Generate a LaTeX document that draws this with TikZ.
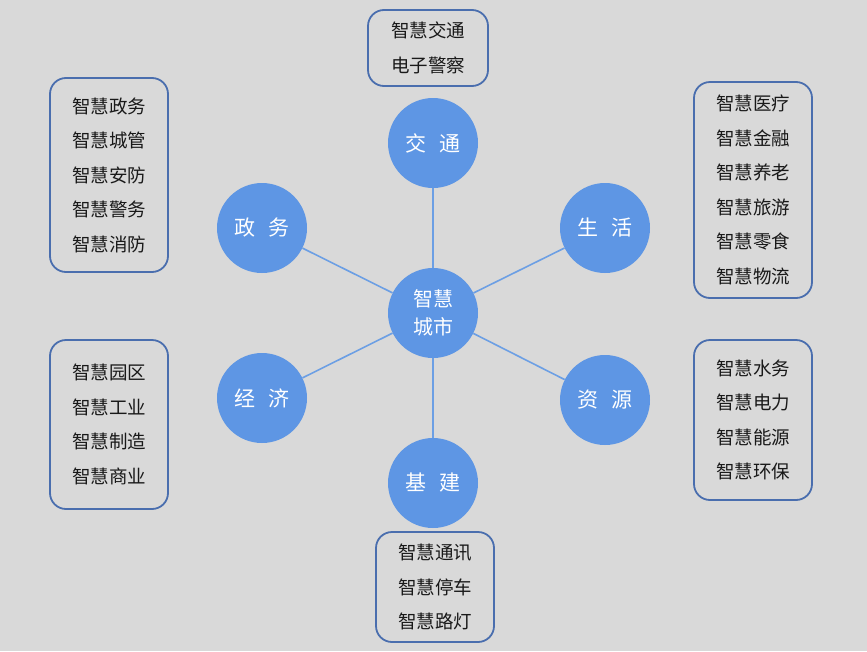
\documentclass[tikz,border=0pt]{standalone}
\usepackage{fontspec}
\setmainfont{Noto Sans CJK SC}
\usetikzlibrary{positioning}
\definecolor{bggray}{HTML}{D9D9D9}
\definecolor{topicblue}{HTML}{5E96E4}
\definecolor{linkblue}{HTML}{6C9FE4}
\definecolor{frameblue}{HTML}{4A6EAE}

\begin{document}
\begin{tikzpicture}[x=1pt, y=-1pt,
    topic/.style={circle, fill=topicblue, minimum size=90pt, inner sep=0pt,
                  text=white, align=center, font=\fontsize{21}{28}\selectfont},
    listbox/.style={draw=frameblue, line width=1.8pt, rounded corners=16pt,
                    minimum width=118pt, minimum height=#1, align=center,
                    inner sep=0pt, text=black!90,
                    font=\fontsize{18.5}{34.5}\selectfont},
    link/.style={linkblue, line width=1.6pt}
  ]
    \fill[bggray] (0,0) rectangle (867,651);
    \useasboundingbox (0,0) rectangle (867,651);

    % Centre and topics
    \node[topic, font=\fontsize{20}{28}\selectfont] (hub) at (433,313)
      {智慧\\城市};
    \node[topic] (traffic) at (433,143) {交\hspace{0.65em}通};
    \node[topic] (life)    at (605,228) {生\hspace{0.65em}活};
    \node[topic] (res)     at (605,400) {资\hspace{0.65em}源};
    \node[topic] (infra)   at (433,483) {基\hspace{0.65em}建};
    \node[topic] (econ)    at (262,398) {经\hspace{0.65em}济};
    \node[topic] (gov)     at (262,228) {政\hspace{0.65em}务};

    \foreach \t in {traffic, life, res, infra, econ, gov}
      \draw[link] (hub) -- (\t);

    % Lists
    \node[listbox=76pt, minimum width=120pt] (trafficlist) at (428,48)
      {智慧交通\\电子警察};
    \node[listbox=216pt] (lifelist) at (753,190)
      {智慧医疗\\智慧金融\\智慧养老\\智慧旅游\\智慧零食\\智慧物流};
    \node[listbox=160pt] (reslist) at (753,420)
      {智慧水务\\智慧电力\\智慧能源\\智慧环保};
    \node[listbox=110pt] (infralist) at (435,587)
      {智慧通讯\\智慧停车\\智慧路灯};
    \node[listbox=169pt] (econlist) at (109,424.5)
      {智慧园区\\智慧工业\\智慧制造\\智慧商业};
    \node[listbox=194pt] (govlist) at (109,175)
      {智慧政务\\智慧城管\\智慧安防\\智慧警务\\智慧消防};
  \end{tikzpicture}
\end{document}
